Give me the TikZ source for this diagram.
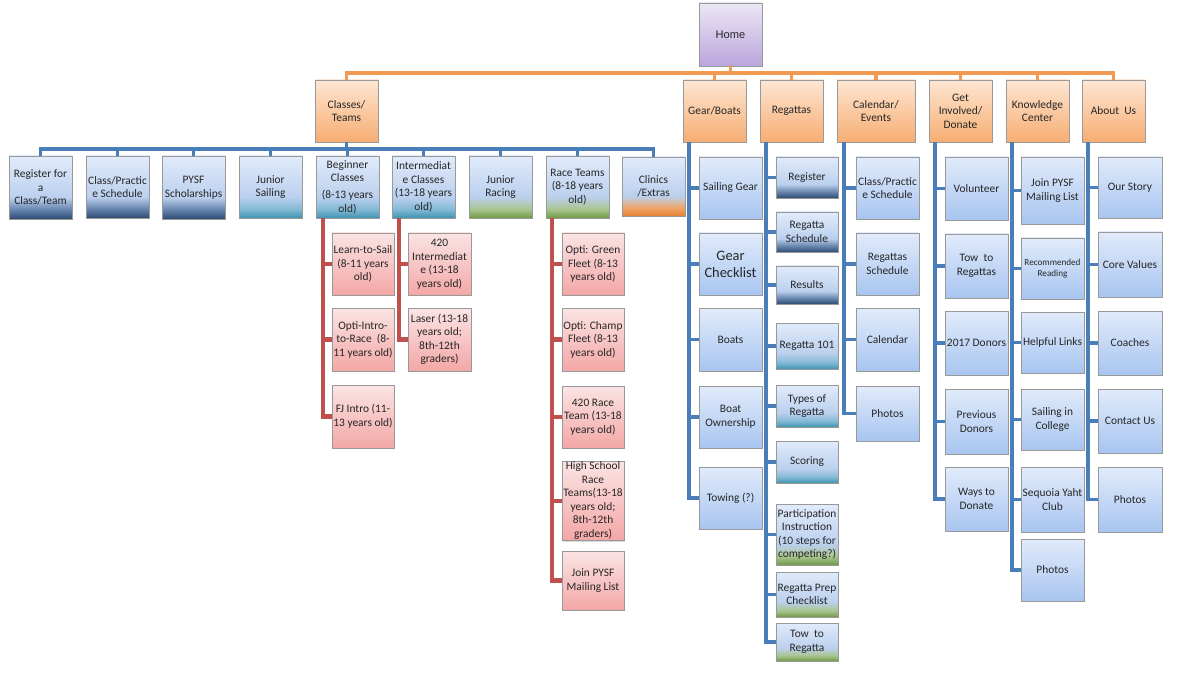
\documentclass[tikz,border=0pt]{standalone}
\usepackage{fontspec}
\setmainfont{Carlito}
\newfontfamily\homefont{Liberation Sans}
\usetikzlibrary{shadows}

\definecolor{lineblue}{HTML}{4A7EBB}
\definecolor{linered}{HTML}{C0504D}
\definecolor{lineorange}{HTML}{F39A52}
\definecolor{icec}{HTML}{E1EBFB}
\definecolor{skyc}{HTML}{BBD0EE}
\definecolor{palec}{HTML}{A8C5F0}
\definecolor{navyc}{HTML}{2F4B72}
\definecolor{navymid}{HTML}{5A79A3}
\definecolor{tealc}{HTML}{3F93B2}
\definecolor{tealmid}{HTML}{82B9D4}
\definecolor{grassc}{HTML}{6E9A45}
\definecolor{grassmid}{HTML}{A9C48E}
\definecolor{rustc}{HTML}{E4802F}
\definecolor{rustmid}{HTML}{EEA56A}
\definecolor{pinktop}{HTML}{FBE4E4}
\definecolor{pinkbot}{HTML}{F3A7A6}
\definecolor{peachtop}{HTML}{FDE6D2}
\definecolor{peachbot}{HTML}{F7AD72}
\definecolor{lavtop}{HTML}{ECE7F5}
\definecolor{lavbot}{HTML}{BAA5DC}

\pgfdeclareverticalshading{navyfade}{100bp}{color(0bp)=(navyc); color(25bp)=(navyc); color(31bp)=(navymid); color(42bp)=(skyc); color(75bp)=(icec); color(100bp)=(icec)}
\pgfdeclareverticalshading{tealfade}{100bp}{color(0bp)=(tealc); color(25bp)=(tealc); color(32bp)=(tealmid); color(42bp)=(skyc); color(75bp)=(icec); color(100bp)=(icec)}
\pgfdeclareverticalshading{grassfade}{100bp}{color(0bp)=(grassc); color(25bp)=(grassc); color(32bp)=(grassmid); color(42bp)=(skyc); color(75bp)=(icec); color(100bp)=(icec)}
\pgfdeclareverticalshading{rustfade}{100bp}{color(0bp)=(rustc); color(25bp)=(rustc); color(32bp)=(rustmid); color(42bp)=(skyc); color(75bp)=(icec); color(100bp)=(icec)}

\tikzset{
  box/.style={draw=black!40, line width=0.4pt, rectangle, align=center, anchor=north west,
    inner sep=0.5pt, outer sep=0pt, text=black!85, font=\fontsize{6.5}{7.7}\selectfont,
    drop shadow={shadow xshift=0.6pt, shadow yshift=-0.7pt, opacity=0.3}},
  wh/.style 2 args={minimum width=#1*0.02cm, minimum height=#2*0.02cm},
  lavbox/.style={box, top color=lavtop, bottom color=lavbot},
  peachbox/.style={box, top color=peachtop, bottom color=peachbot},
  palebox/.style={box, top color=icec, bottom color=palec},
  pinkbox/.style={box, top color=pinktop, bottom color=pinkbot},
  navybox/.style={box, shade, shading=navyfade},
  tealbox/.style={box, shade, shading=tealfade},
  grassbox/.style={box, shade, shading=grassfade},
  rustbox/.style={box, shade, shading=rustfade},
  bline/.style={draw=lineblue, line width=2.2pt},
  rline/.style={draw=linered, line width=2.4pt},
  oline/.style={draw=lineorange, line width=1.9pt}
}

\begin{document}
\begin{tikzpicture}[x=0.02cm, y=-0.02cm]
\useasboundingbox (0,0) rectangle (1200,682);

% home and sections
\node[lavbox, wh={63}{63}, font=\homefont\fontsize{6.3}{7.6}\selectfont] (home) at (699,3) {Home};
\node[peachbox, wh={63}{62}] (classes) at (315,80) {Classes/\\Teams};
\node[peachbox, wh={63}{62}] (gear) at (683,80) {Gear/Boats};
\node[peachbox, wh={63}{62}] (regatta) at (760,80) {Regattas};
\node[peachbox, wh={78}{62}] (calendar) at (837,80) {Calendar/\\Events};
\node[peachbox, wh={63}{62}] (involve) at (929,80) {Get\\Involved/\\Donate};
\node[peachbox, wh={63}{62}] (knowledge) at (1006,80) {Knowledge\\Center};
\node[peachbox, wh={63}{62}] (about) at (1082,80) {About\ \ Us};

% classes row
\node[navybox, wh={63}{63}] (c1) at (9,156) {Register for\\a\\Class/Team};
\node[navybox, wh={63}{62}] (c2) at (86,156) {Class/Practic\\e Schedule};
\node[navybox, wh={63}{63}] (c3) at (162,156) {PYSF\\Scholarships};
\node[tealbox, wh={63}{62}] (c4) at (239,156) {Junior\\Sailing};
\node[tealbox, wh={63}{62}] (c5) at (316,156) {Beginner\\Classes\\[2pt](8-13 years\\old)};
\node[tealbox, wh={63}{62}] (c6) at (392,156) {Intermediat\\e Classes\\(13-18 years\\old)};
\node[grassbox, wh={63}{62}] (c7) at (469,156) {Junior\\Racing};
\node[grassbox, wh={63}{62}] (c8) at (546,156) {Race Teams\\(8-18 years\\old)};
\node[rustbox, wh={63}{59}] (c9) at (622,157) {Clinics\\/Extras};

% beginner, intermediate, race teams
\node[pinkbox, wh={62}{62}] (beg1) at (332,233) {Learn-to-Sail\\(8-11 years\\old)};
\node[pinkbox, wh={62}{63}] (beg2) at (332,308) {Opti-Intro-\\to-Race\ \ (8-\\11 years old)};
\node[pinkbox, wh={62}{63}] (beg3) at (332,385) {FJ Intro (11-\\13 years old)};
\node[pinkbox, wh={63}{62}] (int1) at (408,233) {420\\Intermediat\\e (13-18\\years old)};
\node[pinkbox, wh={63}{63}] (int2) at (408,308) {Laser (13-18\\years old;\\8th-12th\\graders)};
\node[pinkbox, wh={62}{62}] (race1) at (562,233) {Opti: Green\\Fleet (8-13\\years old)};
\node[pinkbox, wh={62}{63}] (race2) at (562,308) {Opti: Champ\\Fleet (8-13\\years old)};
\node[pinkbox, wh={62}{62}] (race3) at (562,386) {420 Race\\Team (13-18\\years old)};
\node[pinkbox, wh={62}{76}] (race4) at (562,461) {High School\\Race\\Teams(13-18\\years old;\\8th-12th\\graders)};
\node[pinkbox, wh={62}{59}] (race5) at (562,551) {Join PYSF\\Mailing List};

% gear/boats
\node[palebox, wh={63}{62}] (gear1) at (699,157) {Sailing Gear};
\node[palebox, wh={63}{62}, font=\fontsize{8.2}{9.6}\selectfont] (gear2) at (699,233) {Gear\\Checklist};
\node[palebox, wh={63}{63}] (gear3) at (699,308) {Boats};
\node[palebox, wh={63}{62}] (gear4) at (699,386) {Boat\\Ownership};
\node[palebox, wh={63}{62}] (gear5) at (699,467) {Towing (?)};

% regattas
\node[navybox, wh={62}{41}] (reg1) at (776,157) {Register};
\node[navybox, wh={62}{40}] (reg2) at (776,212) {Regatta\\Schedule};
\node[navybox, wh={62}{38}] (reg3) at (776,266) {Results};
\node[tealbox, wh={62}{46}] (reg4) at (776,323) {Regatta 101};
\node[tealbox, wh={62}{42}] (reg5) at (776,385) {Types of\\Regatta};
\node[tealbox, wh={62}{42}] (reg6) at (776,441) {Scoring};
\node[grassbox, wh={62}{61}] (reg7) at (776,504) {Participation\\Instruction\\(10 steps for\\competing?)};
\node[grassbox, wh={62}{45}] (reg8) at (776,572) {Regatta Prep\\Checklist};
\node[grassbox, wh={62}{38}] (reg9) at (776,623) {Tow\ \ to\\Regatta};

% calendar/events
\node[palebox, wh={63}{62}] (cal1) at (856,157) {Class/Practic\\e Schedule};
\node[palebox, wh={63}{62}] (cal2) at (856,233) {Regattas\\Schedule};
\node[palebox, wh={63}{63}] (cal3) at (856,308) {Calendar};
\node[palebox, wh={63}{55}] (cal4) at (856,386) {Photos};

% get involved/donate
\node[palebox, wh={63}{63}] (inv1) at (945,157) {Volunteer};
\node[palebox, wh={63}{64}] (inv2) at (945,234) {Tow\ \ to\\Regattas};
\node[palebox, wh={63}{64}] (inv3) at (945,311) {2017 Donors};
\node[palebox, wh={63}{65}] (inv4) at (945,389) {Previous\\Donors};
\node[palebox, wh={63}{64}] (inv5) at (945,467) {Ways to\\Donate};

% knowledge center
\node[palebox, wh={63}{67}] (kno1) at (1021,157) {Join PYSF\\Mailing List};
\node[palebox, wh={63}{61}, font=\fontsize{5.2}{6.6}\selectfont] (kno2) at (1021,238) {Recommended\\Reading};
\node[palebox, wh={63}{61}] (kno3) at (1021,312) {Helpful Links};
\node[palebox, wh={63}{61}] (kno4) at (1021,389) {Sailing in\\College};
\node[palebox, wh={63}{65}] (kno5) at (1021,467) {Sequoia Yaht\\Club};
\node[palebox, wh={63}{62}] (kno6) at (1021,539) {Photos};

% about us
\node[palebox, wh={64}{61}] (abt1) at (1098,157) {Our Story};
\node[palebox, wh={64}{65}] (abt2) at (1098,232) {Core Values};
\node[palebox, wh={64}{64}] (abt3) at (1098,311) {Coaches};
\node[palebox, wh={64}{64}] (abt4) at (1098,389) {Contact Us};
\node[palebox, wh={64}{65}] (abt5) at (1098,467) {Photos};

% connectors
\foreach \t in {classes,gear,regatta,calendar,involve,knowledge,about}
  \draw[oline] (home.south) -- +(0,7) -| (\t.north);
\foreach \k in {1,...,9}
  \draw[bline] (classes.south) -- +(0,7) -| (c\k.north);
\foreach \k in {1,2,3}
  \draw[rline] ([xshift=0.14cm]c5.south west) |- (beg\k.west);
\foreach \k in {1,2}
  \draw[rline] ([xshift=0.14cm]c6.south west) |- (int\k.west);
\foreach \k in {1,...,5}
  \draw[rline] ([xshift=0.12cm]c8.south west) |- (race\k.west);
\foreach \k in {1,...,5}
  \draw[bline] ([xshift=0.12cm]gear.south west) |- (gear\k.west);
\foreach \k in {1,...,9}
  \draw[bline] ([xshift=0.12cm]regatta.south west) |- (reg\k.west);
\foreach \k in {1,...,4}
  \draw[bline] ([xshift=0.14cm]calendar.south west) |- (cal\k.west);
\foreach \k in {1,...,5}
  \draw[bline] ([xshift=0.12cm]involve.south west) |- (inv\k.west);
\foreach \k in {1,...,6}
  \draw[bline] ([xshift=0.12cm]knowledge.south west) |- (kno\k.west);
\foreach \k in {1,...,5}
  \draw[bline] ([xshift=0.12cm]about.south west) |- (abt\k.west);

\end{tikzpicture}
\end{document}
